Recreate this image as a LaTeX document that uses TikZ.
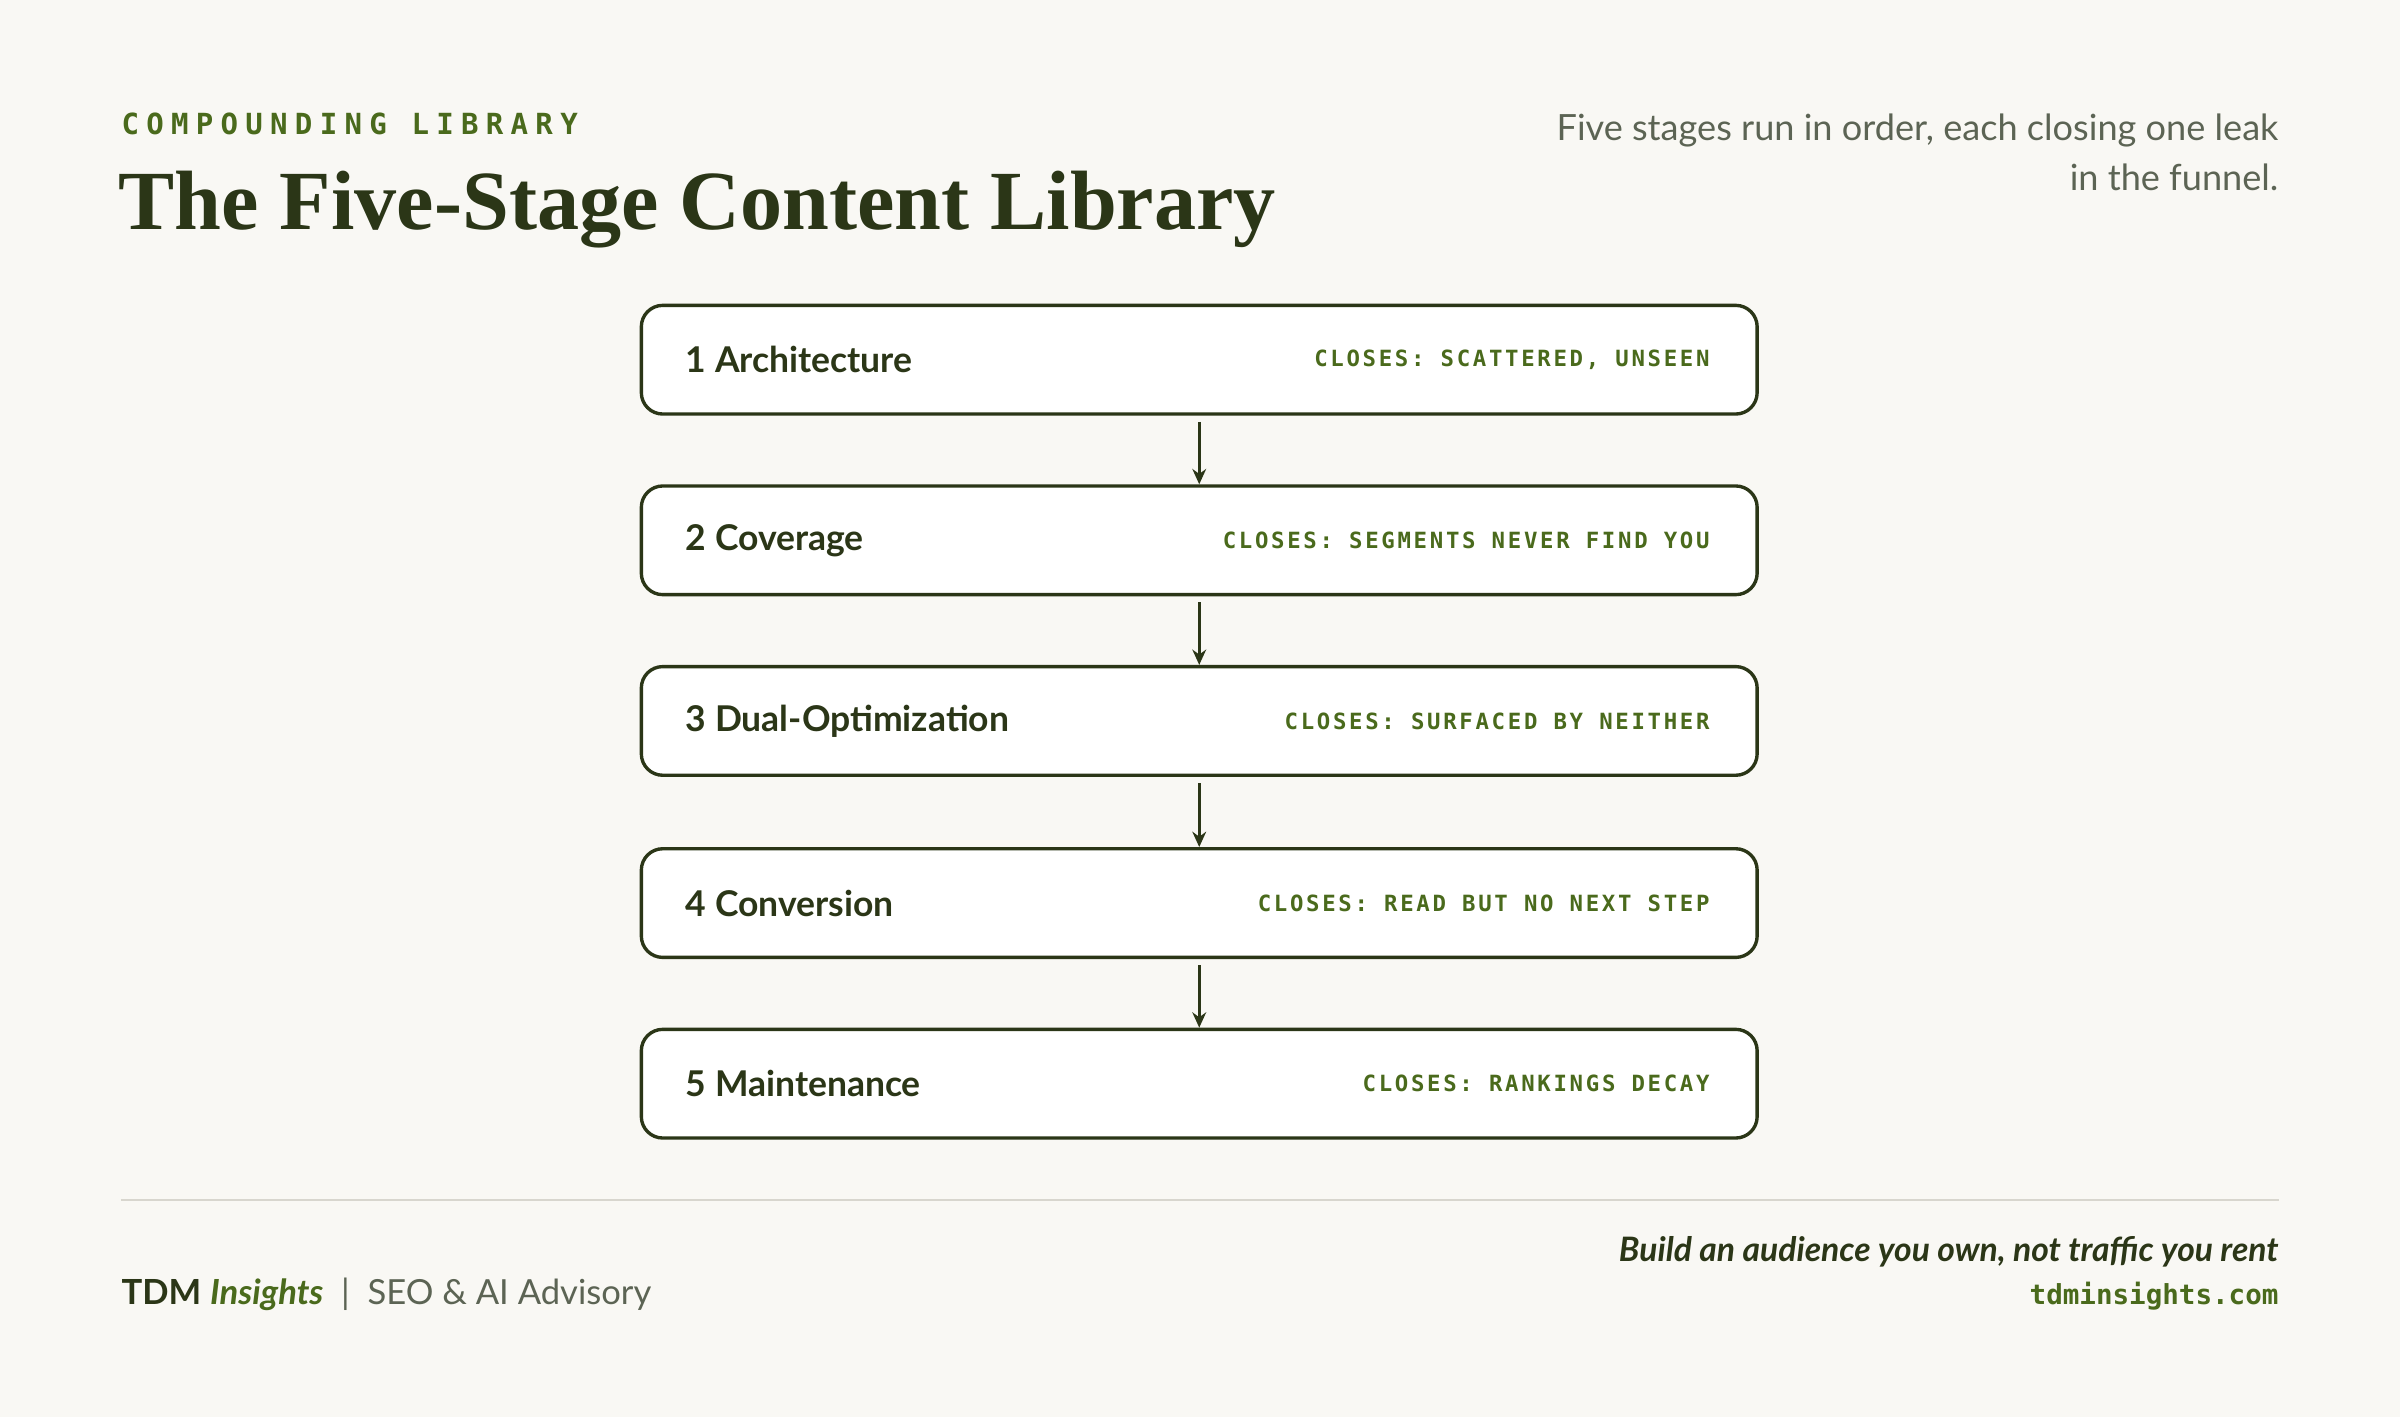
\documentclass[tikz,border=0pt]{standalone}
\usepackage{fontspec}
\setmainfont{Lato}
\newfontfamily\serifT{Liberation Serif}
\newfontfamily\monoT[LetterSpace=12]{DejaVu Sans Mono}
\newfontfamily\monoW[LetterSpace=25]{DejaVu Sans Mono}
\newfontfamily\monoP{DejaVu Sans Mono}
\definecolor{bg}{HTML}{F9F8F4}
\definecolor{ink}{HTML}{2B3617}
\definecolor{leaf}{HTML}{4A6A1C}
\definecolor{muted}{HTML}{5C6454}
\definecolor{rule}{HTML}{D8D6CE}
\usetikzlibrary{arrows.meta}
\begin{document}
\begin{tikzpicture}[x=0.5pt,y=-0.5pt,
  stage/.style={draw=ink,line width=1.1pt,fill=white,rounded corners=7pt,minimum width=364.5pt,minimum height=35.5pt},
  lab/.style={anchor=west,text=ink,font=\fontsize{11.6}{13}\selectfont\bfseries},
  closes/.style={anchor=east,text=leaf,font=\monoT\fontsize{7.3}{9}\selectfont\bfseries},
  arr/.style={-{Stealth[length=5pt,width=4.5pt]},draw=ink,line width=0.9pt}]
\fill[bg] (0,0) rectangle (1568,926);
\useasboundingbox (0,0) rectangle (1568,926);
\node[anchor=base west,inner sep=0,text=leaf,font=\monoW\fontsize{9.5}{11}\selectfont\bfseries] (eye) at (79,88) {COMPOUNDING LIBRARY};
\node[anchor=base west,inner sep=0,text=ink,font=\serifT\fontsize{27.5}{30}\selectfont\bfseries] (title) at (77,150) {The Five-Stage Content Library};
\node[anchor=north east,inner sep=0,align=right,text=muted,font=\fontsize{11.8}{16.5}\selectfont] (sub) at (1489,74) {Five stages run in order, each closing one leak\\in the funnel.};
\foreach \i/\y/\t/\c in {1/235/1 Architecture/{CLOSES: SCATTERED, UNSEEN},
 2/353/2 Coverage/{CLOSES: SEGMENTS NEVER FIND YOU},
 3/471/3 Dual-Optimization/{CLOSES: SURFACED BY NEITHER},
 4/590/4 Conversion/{CLOSES: READ BUT NO NEXT STEP},
 5/708/5 Maintenance/{CLOSES: RANKINGS DECAY}}{
 \node[stage] (s\i) at (783.5,\y) {};
 \node[lab] (l\i) at (441,\y) {\t};
 \node[closes] (c\i) at (1124,\y) {\c};
}
\foreach \a/\b in {1/2,2/3,3/4,4/5}{\draw[arr] ([yshift=-2pt]s\a.south) -- (s\b.north);}
\coordinate (r1) at (79,784); \coordinate (r2) at (1489,784);
\draw[rule,line width=0.6pt] (r1) -- (r2);
\node[anchor=base west,inner sep=0,font=\fontsize{11.3}{13}\selectfont] (brand) at (79,852) {\textcolor{ink}{\bfseries TDM} \textcolor{leaf}{\bfseries\itshape Insights}\ \ \textcolor{muted}{|\ \ SEO \& AI Advisory}};
\node[anchor=base east,inner sep=0,text=ink,font=\fontsize{11}{13}\selectfont\bfseries\itshape] (tag) at (1489,824) {Build an audience you own, not traffic you rent};
\node[anchor=base east,inner sep=0,text=leaf,font=\monoP\fontsize{9}{11}\selectfont\bfseries] (url) at (1489,852) {tdminsights.com};
\end{tikzpicture}
\end{document}
